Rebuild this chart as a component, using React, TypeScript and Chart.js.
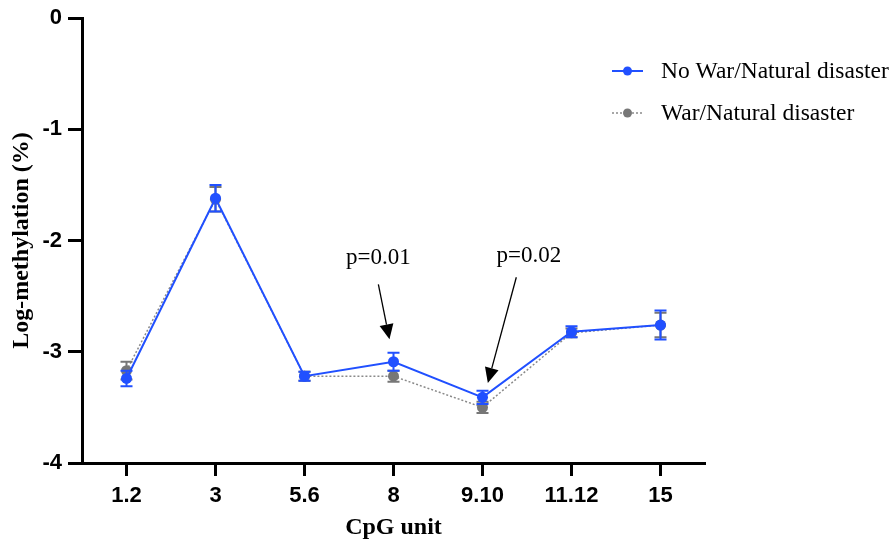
import React, { useEffect, useRef } from "react";
import { Chart, registerables } from "chart.js";

Chart.register(...registerables);

const categories = ["1.2", "3", "5.6", "8", "9.10", "11.12", "15"];
const noWarMean = [-3.24, -1.62, -3.22, -3.09, -3.41, -2.82, -2.76];
const noWarErr = [0.07, 0.12, 0.04, 0.08, 0.06, 0.05, 0.13];
const warMean = [-3.17, -1.63, -3.22, -3.22, -3.5, -2.83, -2.76];
const warErr = [0.08, 0.11, 0.04, 0.05, 0.05, 0.04, 0.11];
const seriesNames = ["No War/Natural disaster", "War/Natural disaster"];
const yMin = -4;
const yMax = 0;
const pLabels = ["p=0.01", "p=0.02"];

// annotation layout in data units (category index, value)
const pAnnotations = [
  { text: pLabels[0], textX: 2.83, textY: -2.215, fromX: 2.83, fromY: -2.395, toX: 2.955, toY: -2.888 },
  { text: pLabels[1], textX: 4.52, textY: -2.19, fromX: 4.38, fromY: -2.33, toX: 4.06, toY: -3.28 },
];

const BLUE = "#2150ff";
const GREY = "#777777";
const SANS = "'Liberation Sans', Arial, sans-serif";
const SERIF = "'Liberation Serif', 'Times New Roman', serif";

const errorBarPlugin = {
  id: "errorBars",
  afterDatasetDraw(chart: any, args: any) {
    const ds: any = chart.data.datasets[args.index];
    const errs: number[] = ds.errors || [];
    const yScale = chart.scales.y;
    const ctx = chart.ctx;
    ctx.save();
    ctx.strokeStyle = ds.errorColor || ds.borderColor;
    ctx.lineWidth = 2;
    ctx.setLineDash([]);
    args.meta.data.forEach((pt: any, i: number) => {
      const v = ds.data[i];
      const e = errs[i];
      if (e == null) return;
      const x = pt.x;
      const yt = yScale.getPixelForValue(v + e);
      const yb = yScale.getPixelForValue(v - e);
      ctx.beginPath();
      ctx.moveTo(x, yt);
      ctx.lineTo(x, yb);
      ctx.moveTo(x - 6, yt);
      ctx.lineTo(x + 6, yt);
      ctx.moveTo(x - 6, yb);
      ctx.lineTo(x + 6, yb);
      ctx.stroke();
    });
    ctx.restore();
  },
};

const annotationPlugin = {
  id: "pAnnotations",
  afterDraw(chart: any) {
    const ctx = chart.ctx;
    const xs = chart.scales.x;
    const ys = chart.scales.y;
    ctx.save();
    ctx.fillStyle = "#000";
    ctx.strokeStyle = "#000";
    ctx.font = `23px ${SERIF}`;
    ctx.textAlign = "center";
    ctx.textBaseline = "alphabetic";
    pAnnotations.forEach((a) => {
      ctx.fillText(a.text, xs.getPixelForValue(a.textX), ys.getPixelForValue(a.textY));
      const x1 = xs.getPixelForValue(a.fromX);
      const y1 = ys.getPixelForValue(a.fromY);
      const x2 = xs.getPixelForValue(a.toX);
      const y2 = ys.getPixelForValue(a.toY);
      const ang = Math.atan2(y2 - y1, x2 - x1);
      const headLen = 15;
      const headHalf = 7;
      const bx = x2 - headLen * Math.cos(ang);
      const by = y2 - headLen * Math.sin(ang);
      ctx.lineWidth = 1.3;
      ctx.beginPath();
      ctx.moveTo(x1, y1);
      ctx.lineTo(bx, by);
      ctx.stroke();
      ctx.beginPath();
      ctx.moveTo(x2, y2);
      ctx.lineTo(bx + headHalf * Math.sin(ang), by - headHalf * Math.cos(ang));
      ctx.lineTo(bx - headHalf * Math.sin(ang), by + headHalf * Math.cos(ang));
      ctx.closePath();
      ctx.fill();
    });
    ctx.restore();
  },
};

const legendPlugin = {
  id: "customLegend",
  afterDraw(chart: any) {
    const ctx = chart.ctx;
    const x0 = chart.chartArea.right - 93;
    const rows = [63, 105];
    ctx.save();
    chart.data.datasets.forEach((ds: any, i: number) => {
      const y = rows[i];
      ctx.strokeStyle = ds.borderColor;
      ctx.lineWidth = ds.borderWidth;
      ctx.setLineDash(ds.borderDash || []);
      ctx.beginPath();
      ctx.moveTo(x0, y);
      ctx.lineTo(x0 + 31, y);
      ctx.stroke();
      ctx.setLineDash([]);
      ctx.fillStyle = ds.pointBackgroundColor;
      ctx.beginPath();
      ctx.arc(x0 + 15.5, y, 4.5, 0, Math.PI * 2);
      ctx.fill();
      ctx.fillStyle = "#000";
      ctx.font = `23.5px ${SERIF}`;
      ctx.textAlign = "left";
      ctx.textBaseline = "middle";
      ctx.fillText(ds.label, x0 + 49, y + 1);
    });
    ctx.restore();
  },
};

export default function App() {
  const canvasRef = useRef<HTMLCanvasElement | null>(null);

  useEffect(() => {
    if (!canvasRef.current) return;
    const chart = new Chart(canvasRef.current, {
      type: "line",
      data: {
        labels: categories,
        datasets: [
          {
            label: seriesNames[0],
            data: noWarMean,
            errors: noWarErr,
            borderColor: BLUE,
            backgroundColor: BLUE,
            pointBackgroundColor: BLUE,
            pointBorderWidth: 0,
            pointRadius: 5.5,
            borderWidth: 2,
            tension: 0,
          } as any,
          {
            label: seriesNames[1],
            data: warMean,
            errors: warErr,
            errorColor: GREY,
            borderColor: "#8a8a8a",
            backgroundColor: GREY,
            pointBackgroundColor: GREY,
            pointBorderWidth: 0,
            pointRadius: 5.5,
            borderWidth: 1.5,
            borderDash: [2, 2],
            tension: 0,
          } as any,
        ],
      },
      options: {
        animation: false,
        responsive: true,
        maintainAspectRatio: false,
        layout: { padding: { top: 10, right: 187, left: 0, bottom: 0 } },
        plugins: {
          legend: { display: false },
          tooltip: { enabled: false },
        },
        scales: {
          x: {
            type: "category",
            offset: true,
            grid: {
              display: true,
              drawOnChartArea: false,
              drawTicks: true,
              tickLength: 13,
              tickWidth: 3,
              tickColor: "#000",
              offset: false,
            },
            border: { display: true, color: "#000", width: 3 },
            ticks: {
              color: "#000",
              font: { family: SANS, size: 22, weight: "bold", lineHeight: 1 },
              padding: 9,
              maxRotation: 0,
              autoSkip: false,
            },
            title: {
              display: true,
              text: "CpG unit",
              color: "#000",
              font: { family: SERIF, size: 24, weight: "bold", lineHeight: 0.75 },
              padding: { top: 0, bottom: 8 },
            },
            afterFit: (s: any) => {
              s.height = 82;
            },
          },
          y: {
            min: yMin,
            max: yMax,
            grid: {
              display: true,
              drawOnChartArea: false,
              drawTicks: true,
              tickLength: 14,
              tickWidth: 3,
              tickColor: "#000",
            },
            border: { display: true, color: "#000", width: 3 },
            ticks: {
              stepSize: 1,
              color: "#000",
              font: { family: SANS, size: 22, weight: "bold", lineHeight: 0.3 },
              padding: 6,
            },
            title: {
              display: true,
              text: "Log-methylation (%)",
              color: "#000",
              font: { family: SERIF, size: 24, weight: "bold", lineHeight: 1 },
              padding: { top: 2, bottom: 0 },
            },
            afterFit: (s: any) => {
              s.width = 74;
            },
          },
        },
      } as any,
      plugins: [errorBarPlugin, annotationPlugin, legendPlugin],
    });
    return () => chart.destroy();
  }, []);

  return (
    <div style={{ position: "absolute", left: 8, top: 8, width: 884, height: 537 }}>
      <canvas ref={canvasRef} />
    </div>
  );
}
